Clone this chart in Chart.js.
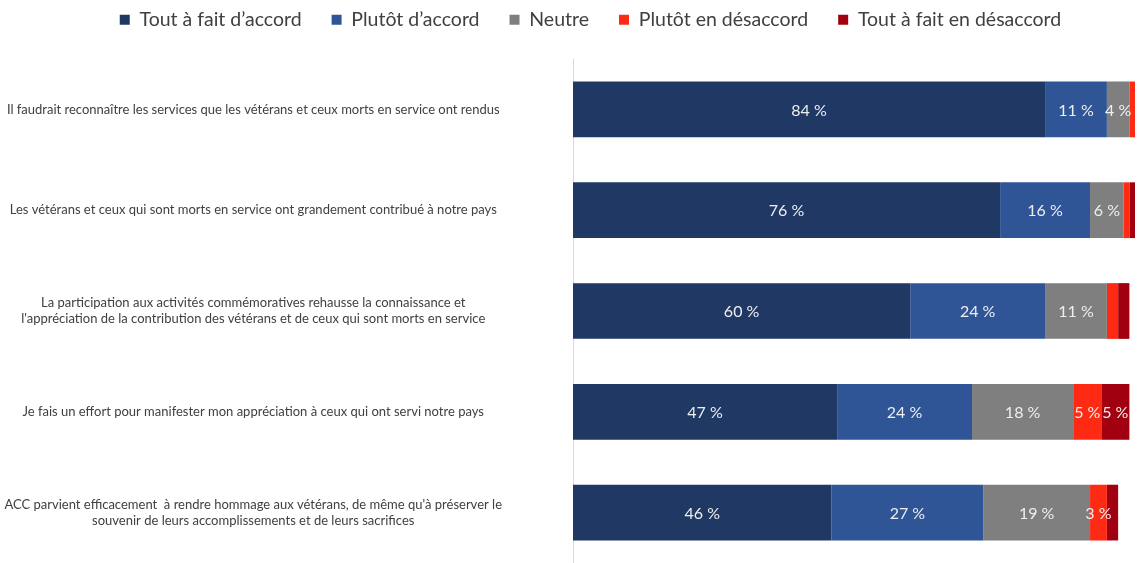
<!DOCTYPE html>
<html>
<head>
<meta charset="utf-8">
<script src="https://cdn.jsdelivr.net/npm/chart.js@4/dist/chart.umd.min.js"></script>
<style>
  html, body { margin: 0; padding: 0; background: #fff; }
  #wrap { width: 1139px; height: 563px; }
</style>
</head>
<body>
<div id="wrap"><canvas id="chart"></canvas></div>
<script>
var statements = [
  "Il faudrait reconnaître les services que les vétérans et ceux morts en service ont rendus",
  "Les vétérans et ceux qui sont morts en service ont grandement contribué à notre pays",
  ["La participation aux activités commémoratives rehausse la connaissance et",
   "l'appréciation de la contribution des vétérans et de ceux qui sont morts en service"],
  "Je fais un effort pour manifester mon appréciation à ceux qui ont servi notre pays",
  ["ACC parvient efficacement  à rendre hommage aux vétérans, de même qu'à préserver le",
   "souvenir de leurs accomplissements et de leurs sacrifices"]
];

var seriesNames = ["Tout à fait d’accord", "Plutôt d’accord", "Neutre", "Plutôt en désaccord", "Tout à fait en désaccord"];
var toutAFaitAccord = [84, 76, 60, 47, 46];
var plutotAccord = [11, 16, 24, 24, 27];
var neutre = [4, 6, 11, 18, 19];
var plutotDesaccord = [1, 1, 2, 5, 3];
var toutAFaitDesaccord = [1, 2, 2, 5, 2];
var colors = ['#1f3864', '#2f5597', '#7f7f7f', '#ff2a14', '#a0000f'];

var fontFamily = 'Lato, "Open Sans", sans-serif';

// draws the percentage inside each segment (3 % and above)
var segmentLabels = {
  id: 'segmentLabels',
  afterDatasetsDraw: function (chart) {
    var ctx = chart.ctx;
    ctx.save();
    ctx.font = '16px ' + fontFamily;
    ctx.fillStyle = '#eeeeee';
    ctx.textAlign = 'center';
    ctx.textBaseline = 'middle';
    chart.data.datasets.forEach(function (ds, i) {
      var meta = chart.getDatasetMeta(i);
      meta.data.forEach(function (bar, j) {
        var v = ds.data[j];
        if (v < 3) return;
        var p = bar.getCenterPoint();
        ctx.fillText(v + ' %', p.x, p.y + 1);
      });
    });
    ctx.restore();
  }
};

// room under the legend, and legend centred a bit right like the original
var legendSpace = {
  id: 'legendSpace',
  beforeInit: function (chart) {
    var fit = chart.legend.fit;
    chart.legend.fit = function () {
      fit.bind(chart.legend)();
      this.height = 79;
    };
  },
  afterLayout: function (chart) {
    chart.legend.left += 46;
  }
};

var allSeries = [toutAFaitAccord, plutotAccord, neutre, plutotDesaccord, toutAFaitDesaccord];
var datasets = allSeries.map(function (vals, i) {
  return {
    label: seriesNames[i],
    data: vals,
    backgroundColor: colors[i],
    borderWidth: 0,
    barPercentage: 0.553,
    categoryPercentage: 1
  };
});

var ctx = document.getElementById('chart').getContext('2d');
var chart = new Chart(ctx, {
  type: 'bar',
  data: { labels: statements, datasets: datasets },
  options: {
    indexAxis: 'y',
    responsive: true,
    maintainAspectRatio: false,
    animation: false,
    layout: { padding: { left: 0, right: 4, top: -20, bottom: -3 } },
    plugins: {
      legend: {
        position: 'top',
        labels: {
          boxWidth: 10,
          boxHeight: 10,
          padding: 30,
          color: '#404040',
          font: { family: fontFamily, size: 19.5 }
        }
      },
      tooltip: { enabled: false }
    },
    scales: {
      x: {
        stacked: true,
        min: 0,
        max: 100,
        display: false
      },
      y: {
        stacked: true,
        afterFit: function (scale) {
          scale.width = 573;
          scale.paddingTop = 0;
          scale.paddingBottom = 0;
        },
        grid: { display: true, drawOnChartArea: false, drawTicks: true, tickLength: 71, tickColor: 'rgba(0,0,0,0)', color: 'rgba(0,0,0,0)' },
        border: { display: true, color: '#d9d9d9', width: 1 },
        ticks: {
          crossAlign: 'center',
          padding: 0,
          color: '#404040',
          font: { family: fontFamily, size: 13 }
        }
      }
    }
  },
  plugins: [segmentLabels, legendSpace]
});
</script>
</body>
</html>
